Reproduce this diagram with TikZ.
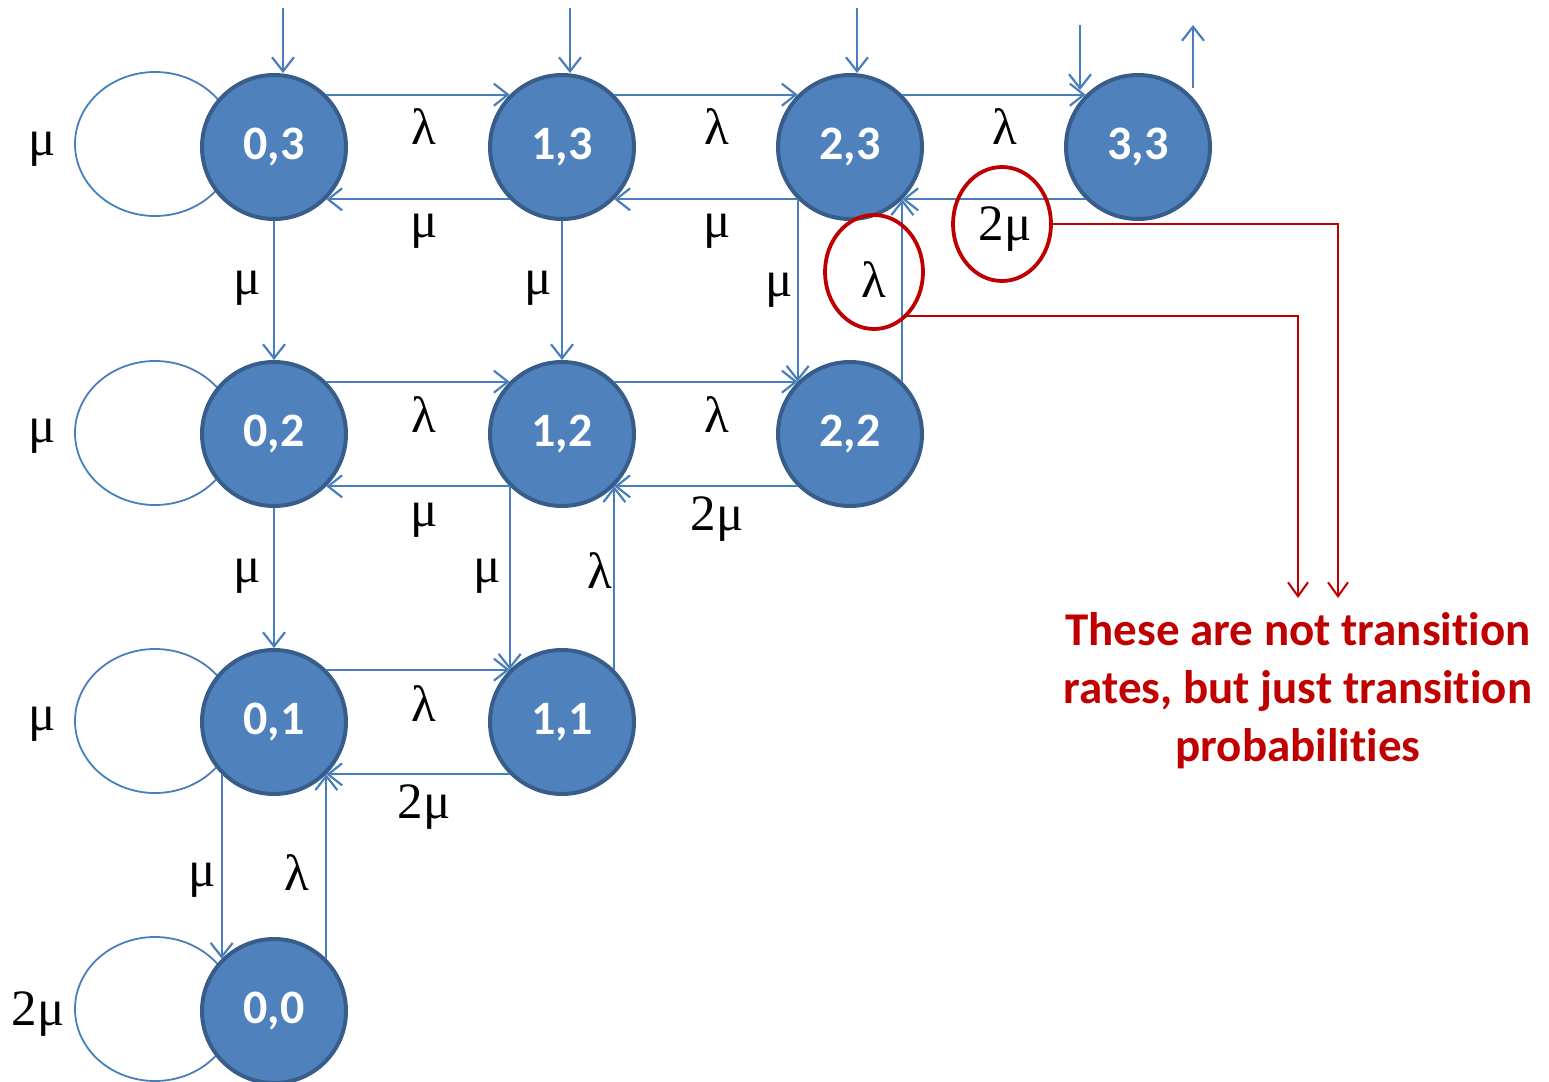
\documentclass[tikz,border=0pt]{standalone}
\usepackage{fontspec}
\setmainfont{Carlito}[RawFeature={-liga;-clig;-calt;-dlig}]
\newfontfamily\gr{Liberation Serif}
\usetikzlibrary{arrows.meta,shapes.geometric}
\definecolor{nfill}{HTML}{4F81BD}
\definecolor{nborder}{HTML}{385D8A}
\definecolor{lblue}{HTML}{4A7EBB}
\definecolor{dred}{HTML}{C00000}
\begin{document}
\begin{tikzpicture}[x=1pt,y=-1pt,
  state/.style={circle,fill=nfill,draw=nborder,line width=4pt,minimum size=144pt,inner sep=0pt,text=white,font=\bfseries\fontsize{48}{50}\selectfont},
  arr/.style={draw=lblue,line width=2.2pt,-{Straight Barb[length=14pt,width=22pt]}},
  loopell/.style={ellipse,draw=lblue,line width=1.8pt,minimum width=160pt,minimum height=144pt,inner sep=0pt},
  lab/.style={font=\gr\fontsize{51}{54}\selectfont,inner sep=0pt},
  redell/.style={ellipse,draw=dred,line width=3.8pt,minimum width=98pt,minimum height=114pt,inner sep=0pt},
  redarr/.style={draw=dred,line width=2pt,-{Straight Barb[length=14pt,width=20pt]}},
  redtxt/.style={text=dred,align=center,font=\bfseries\fontsize{47}{58}\selectfont,inner sep=0pt}]
\useasboundingbox (0,0) rectangle (1549,1081);
% self loops
\node[loopell] (l03) at (155,144) {};
\node[loopell] (l02) at (155,433) {};
\node[loopell] (l01) at (155,721) {};
\node[loopell] (l00) at (155,1009) {};
% states
\node[state] (n03) at (274,147) {0,3};
\node[state] (n13) at (562,147) {1,3};
\node[state] (n23) at (850,147) {2,3};
\node[state] (n33) at (1138,147) {3,3};
\node[state] (n02) at (274,434) {0,2};
\node[state] (n12) at (562,434) {1,2};
\node[state] (n22) at (850,434) {2,2};
\node[state] (n01) at (274,722) {0,1};
\node[state] (n11) at (562,722) {1,1};
\node[state] (n00) at (274,1011) {0,0};
% incoming / outgoing at top
\coordinate (i03) at (283,8);
\coordinate (i13) at (570,8);
\coordinate (i23) at (857,8);
\coordinate (i33) at (1080,25);
\coordinate (i33e) at (1080,90);
\coordinate (o33s) at (1193,88);
\coordinate (o33e) at (1193,25);
\draw[arr] (i03) -- (i03 |- n03.north);
\draw[arr] (i13) -- (i13 |- n13.north);
\draw[arr] (i23) -- (i23 |- n23.north);
\draw[arr] (i33) -- (i33e);
\draw[arr] (o33s) -- (o33e);
% row 3
\draw[arr] (n03.45) -- (n13.135);
\draw[arr] (n13.-135) -- (n03.-45);
\draw[arr] (n13.45) -- (n23.135);
\draw[arr] (n23.-135) -- (n13.-45);
\draw[arr] (n23.45) -- (n33.135);
\draw[arr] (n33.-135) -- (n23.-45);
% verticals 3-2
\draw[arr] (n03.south) -- (n02.north);
\draw[arr] (n13.south) -- (n12.north);
\draw[arr] (n23.-135) -- (n22.135);
\draw[arr] (n22.45) -- (n23.-45);
% row 2
\draw[arr] (n02.45) -- (n12.135);
\draw[arr] (n12.-135) -- (n02.-45);
\draw[arr] (n12.45) -- (n22.135);
\draw[arr] (n22.-135) -- (n12.-45);
% verticals 2-1
\draw[arr] (n02.south) -- (n01.north);
\draw[arr] (n12.-135) -- (n11.135);
\draw[arr] (n11.45) -- (n12.-45);
% row 1
\draw[arr] (n01.45) -- (n11.135);
\draw[arr] (n11.-135) -- (n01.-45);
% verticals 1-0
\draw[arr] (n01.-135) -- (n00.135);
\draw[arr] (n00.45) -- (n01.-45);
% labels
\node[lab] at (42,149) {μ};
\node[lab] at (42,436) {μ};
\node[lab] at (42,724) {μ};
\node[lab] at (38,1014) {2μ};
\node[lab] at (424,127) {λ};
\node[lab] at (717,127) {λ};
\node[lab] at (1005,127) {λ};
\node[lab] at (424,231) {μ};
\node[lab] at (717,231) {μ};
\node[lab] at (247,288) {μ};
\node[lab] at (538,288) {μ};
\node[lab] at (779,290) {μ};
\node[lab] (lam) at (874,280) {λ};
\node[lab] (tmu) at (1005,229) {2μ};
\node[lab] at (424,415) {λ};
\node[lab] at (717,415) {λ};
\node[lab] at (424,520) {μ};
\node[lab] at (717,519) {2μ};
\node[lab] at (247,576) {μ};
\node[lab] at (487,576) {μ};
\node[lab] at (600,571) {λ};
\node[lab] at (424,704) {λ};
\node[lab] at (424,807) {2μ};
\node[lab] at (202,880) {μ};
\node[lab] at (297,873) {λ};
% red annotations
\node[redell] (elam) at (874,272) {};
\node[redell] (emu) at (1002,224) {};
\coordinate (a1) at (1338,598);
\coordinate (a2) at (1298,598);
\draw[redarr] (emu.east) -| (a1);
\draw[redarr] (elam.-53) -| (a2);
\node[redtxt] (note) at (1298,691) {These are not transition\\rates, but just transition\\probabilities};
\end{tikzpicture}
\end{document}
